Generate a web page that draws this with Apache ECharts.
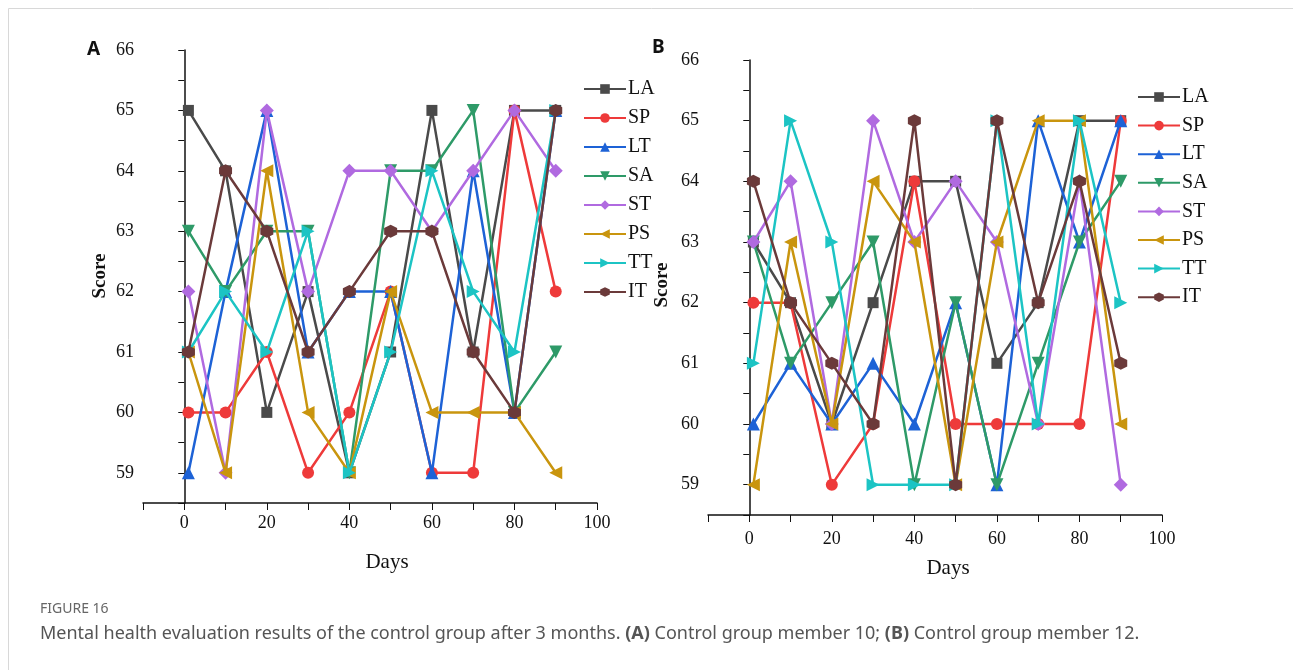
<!DOCTYPE html>
<html>
<head>
<meta charset="utf-8">
<script src="https://cdn.jsdelivr.net/npm/echarts@6/dist/echarts.min.js"></script>
<style>
html,body{margin:0;padding:0;background:#fff;}
#c{width:1293px;height:670px;}
</style>
</head>
<body>
<div id="c"></div>
<script>
const days = [1, 10, 20, 30, 40, 50, 60, 70, 80, 90];
const seriesNames = ['LA', 'SP', 'LT', 'SA', 'ST', 'PS', 'TT', 'IT'];

// Panel A: control group member 10
const A_LA = [65, 64, 60, 62, 59, 61, 65, 61, 65, 65];
const A_SP = [60, 60, 61, 59, 60, 62, 59, 59, 65, 62];
const A_LT = [59, 62, 65, 61, 62, 62, 59, 64, 60, 65];
const A_SA = [63, 62, 63, 63, 59, 64, 64, 65, 60, 61];
const A_ST = [62, 59, 65, 62, 64, 64, 63, 64, 65, 64];
const A_PS = [61, 59, 64, 60, 59, 62, 60, 60, 60, 59];
const A_TT = [61, 62, 61, 63, 59, 61, 64, 62, 61, 65];
const A_IT = [61, 64, 63, 61, 62, 63, 63, 61, 60, 65];

// Panel B: control group member 12
const B_LA = [63, 62, 60, 62, 64, 64, 61, 62, 65, 65];
const B_SP = [62, 62, 59, 60, 64, 60, 60, 60, 60, 65];
const B_LT = [60, 61, 60, 61, 60, 62, 59, 65, 63, 65];
const B_SA = [63, 61, 62, 63, 59, 62, 59, 61, 63, 64];
const B_ST = [63, 64, 60, 65, 63, 64, 63, 60, 64, 59];
const B_PS = [59, 63, 60, 64, 63, 59, 63, 65, 65, 60];
const B_TT = [61, 65, 63, 59, 59, 59, 65, 60, 65, 62];
const B_IT = [64, 62, 61, 60, 65, 59, 65, 62, 64, 61];

const xTickLabels = ['0', '20', '40', '60', '80', '100'];
const yTickLabels = ['59', '60', '61', '62', '63', '64', '65', '66'];

const panelA = [A_LA, A_SP, A_LT, A_SA, A_ST, A_PS, A_TT, A_IT];
const panelB = [B_LA, B_SP, B_LT, B_SA, B_ST, B_PS, B_TT, B_IT];

const colors = ['#4a4a4a', '#ee3a3a', '#1d62d6', '#2e9a68', '#b06ae0', '#c9950e', '#1cc4c4', '#6b3a3a'];
const hex = 'path://M0,-10L8.66,-5L8.66,5L0,10L-8.66,5L-8.66,-5Z';
const symbols = ['rect', 'circle', 'triangle', 'triangle', 'diamond', 'triangle', 'triangle', hex];
const rotates = [0, 0, 0, 180, 0, 90, -90, 0];
const sizes = [11, 12, 13, 13, 14, 13, 13, 13];

const serif = 'Liberation Serif';

function mkSeries(data, idx) {
  return data.map((vals, i) => ({
    name: seriesNames[i],
    type: 'line',
    xAxisIndex: idx,
    yAxisIndex: idx,
    data: days.map((d, k) => [d, vals[k]]),
    symbol: symbols[i],
    symbolRotate: rotates[i],
    symbolSize: sizes[i],
    showAllSymbol: true,
    lineStyle: { width: 2.5, color: colors[i] },
    itemStyle: { color: colors[i] },
    emphasis: { disabled: true },
    animation: false,
    z: 2 + i
  }));
}

function xAxis(gi, margin) {
  return {
    type: 'value', gridIndex: gi, min: -10, max: 100, interval: 10,
    axisLine: { lineStyle: { color: '#111', width: 1.5 } },
    axisTick: { length: 7, lineStyle: { color: '#111' } },
    splitLine: { show: false },
    axisLabel: {
      margin: margin, color: '#111', fontFamily: serif, fontSize: 18,
      formatter: v => {
        const s = String(Math.round(v));
        return xTickLabels.indexOf(s) >= 0 && Math.abs(v - Math.round(v)) < 1e-6 ? s : '';
      }
    }
  };
}
function yAxis(gi) {
  return {
    type: 'value', gridIndex: gi, min: 58.5, max: 66, interval: 0.5,
    axisLine: { show: true, lineStyle: { color: '#111', width: 1.5 } },
    axisTick: { show: true, length: 6, lineStyle: { color: '#111' } },
    splitLine: { show: false },
    axisLabel: {
      margin: 9, color: '#111', fontFamily: serif, fontSize: 18,
      formatter: v => {
        const s = String(v);
        return yTickLabels.indexOf(s) >= 0 ? s : '';
      }
    }
  };
}
function legend(left, top, gap) {
  return {
    orient: 'vertical', left: left, top: top, padding: 0,
    itemWidth: 42, itemHeight: 12, itemGap: gap,
    textStyle: { fontFamily: serif, fontSize: 20, color: '#111', padding: [0, 0, 0, -3] },
    data: seriesNames,
    selectedMode: false
  };
}

const chart = echarts.init(document.getElementById('c'), null, { renderer: 'canvas' });
chart.setOption({
  backgroundColor: '#fff',
  animation: false,
  color: colors,
  grid: [
    { left: 143, top: 50, width: 454, height: 453 },
    { left: 708, top: 60, width: 454, height: 455 }
  ],
  xAxis: [xAxis(0, 11), xAxis(1, 15)],
  yAxis: [yAxis(0), yAxis(1)],
  legend: [legend(583, 79, 9), legend(1137, 87, 8.6)],
  series: mkSeries(panelA, 0).concat(mkSeries(panelB, 1)),
  graphic: [
    { type: 'rect', shape: { x: 8.5, y: 8.5, width: 1300, height: 700 }, style: { fill: 'none', stroke: '#d8d8d8', lineWidth: 1 }, silent: true },
    { type: 'text', left: 87, top: 40, style: { text: 'A', font: 'bold 19px "Noto Sans"', fill: '#111' } },
    { type: 'text', left: 652, top: 38, style: { text: 'B', font: 'bold 19px "Noto Sans"', fill: '#111' } },
    { type: 'text', x: 387, y: 562, style: { text: 'Days', font: '21px "Liberation Serif"', fill: '#111', align: 'center', verticalAlign: 'middle' } },
    { type: 'text', x: 948, y: 568, style: { text: 'Days', font: '21px "Liberation Serif"', fill: '#111', align: 'center', verticalAlign: 'middle' } },
    { type: 'text', x: 100, y: 276, rotation: Math.PI / 2, style: { text: 'Score', font: 'bold 19px "Liberation Serif"', fill: '#111', align: 'center', verticalAlign: 'middle' } },
    { type: 'text', x: 662, y: 285, rotation: Math.PI / 2, style: { text: 'Score', font: 'bold 19px "Liberation Serif"', fill: '#111', align: 'center', verticalAlign: 'middle' } },
    { type: 'text', left: 40, top: 602, style: { text: 'FIGURE 16', font: '14px "Noto Sans"', fill: '#666' } },
    { type: 'text', left: 40, top: 625, style: {
        text: 'Mental health evaluation results of the control group after 3 months. {b|(A)} Control group member 10; {b|(B)} Control group member 12.',
        font: '18px "Noto Sans"', fill: '#555',
        rich: { b: { fontWeight: 'bold', fontFamily: 'Noto Sans', fontSize: 18, fill: '#555', color: '#555' } }
      } }
  ]
});
</script>
</body>
</html>
